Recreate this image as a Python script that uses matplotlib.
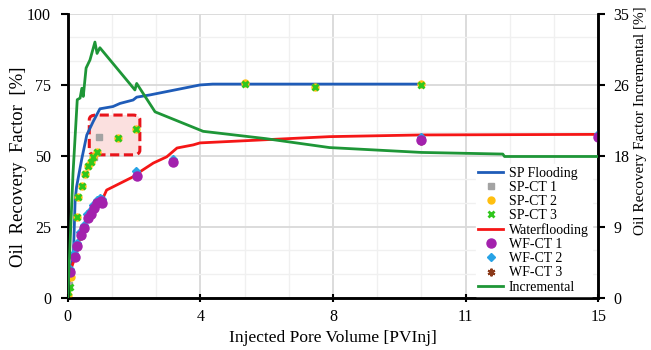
import matplotlib
matplotlib.use('Agg')
import matplotlib.pyplot as plt
from matplotlib.patches import FancyBboxPatch

plt.rcParams['font.family'] = ['Liberation Serif', 'DejaVu Serif']

# SP flooding curve
sp_x = [0, 0.05, 0.16, 0.21, 0.25, 0.40, 0.54, 0.72, 0.91, 1.28, 1.48, 1.85, 1.95, 2.33, 3.74, 4.1, 10.0]
sp_y = [0, 8, 14.4, 34.4, 39, 49, 57.3, 62, 66.5, 67.3, 68.4, 69.6, 70.6, 71.4, 74.9, 75.2, 75.2]

# SP core tests
spct1_x = [0.05, 0.75, 0.89]
spct1_y = [4.5, 49.5, 56.5]
spct2_x = [0.01, 0.1, 0.25, 0.30, 0.40, 0.49, 0.58, 0.65, 0.72, 0.82, 1.43, 1.93, 5.0, 7.0, 10.0]
spct2_y = [1.0, 7.2, 28.5, 35.4, 39.3, 43.6, 46.5, 47.9, 49.4, 51.4, 56.1, 59.3, 75.6, 74.3, 75.1]
spct3_x = [0.02, 0.07, 0.25, 0.30, 0.40, 0.49, 0.58, 0.65, 0.72, 0.82, 1.43, 1.93, 5.0, 7.0, 10.0]
spct3_y = [2.1, 3.9, 28.5, 35.4, 39.3, 43.6, 46.5, 47.9, 49.4, 51.4, 56.1, 59.3, 75.2, 74.1, 74.9]

# waterflooding curve
wf_x = [0, 0.07, 0.21, 0.27, 0.38, 0.47, 0.57, 0.65, 0.74, 0.84, 0.96, 1.1, 1.95, 1.99, 2.42, 2.8, 3.09, 3.55, 3.74, 7.4, 10.0, 15]
wf_y = [0, 9.2, 14.4, 18.2, 22, 24.4, 28.2, 29.4, 31.5, 33.2, 34, 37.9, 43.2, 43.9, 47.4, 49.6, 52.7, 53.8, 54.5, 56.7, 57.3, 57.5]

# WF core tests
wfct1_x = [0.07, 0.21, 0.27, 0.38, 0.47, 0.57, 0.65, 0.74, 0.84, 0.93, 0.98, 1.95, 2.99, 10.0, 15.0]
wfct1_y = [9.2, 14.4, 18.2, 22, 24.4, 28.2, 29.4, 31.5, 33.2, 34, 33.5, 43, 47.9, 55.5, 56.7]
wfct2_x = [0.06, 0.19, 0.26, 0.36, 0.45, 0.55, 0.63, 0.72, 0.82, 0.91, 0.96, 1.93, 2.97, 10.0, 15.0]
wfct2_y = [10.2, 15.6, 19.4, 23.2, 25.6, 29.4, 30.6, 32.7, 34.4, 35.2, 34.7, 44.5, 49.0, 56.6, 57.8]
wfct3_x = [0.07, 0.21, 0.27, 0.38, 0.47, 0.57, 0.65, 0.74, 0.84, 0.93, 0.98, 1.95, 2.99, 10.0, 15.0]
wfct3_y = [9.0, 14.2, 18.0, 21.8, 24.2, 28.0, 29.2, 31.3, 33.0, 33.8, 33.3, 42.8, 47.7, 55.3, 56.5]

# incremental recovery (right axis)
inc_x = [0, 0.05, 0.15, 0.27, 0.35, 0.40, 0.44, 0.52, 0.63, 0.77, 0.83, 0.91, 1.9, 1.95, 2.47, 3.83, 5.6, 7.4, 10.0, 12.3, 12.35, 15]
inc_y = [0, 5, 15.3, 24.4, 24.6, 25.8, 24.8, 28.3, 29.3, 31.5, 30.1, 30.8, 25.6, 26.4, 22.9, 20.5, 19.6, 18.5, 17.9, 17.7, 17.4, 17.4]

x_ticks = [0, 3.75, 7.5, 11.25, 15]
x_labels = ['0', '4', '8', '11', '15']
y_ticks = [0, 25, 50, 75, 100]
y2_ticks = [0, 8.75, 17.5, 26.25, 35]
y2_labels = ['0', '9', '18', '26', '35']

fig = plt.figure(figsize=(6.51, 3.5), dpi=100)
ax = fig.add_axes([0.104, 0.1494, 0.815, 0.8116])
ax2 = ax.twinx()

# highlight box
box = FancyBboxPatch((0.61, 50.3), 1.43, 14.0, boxstyle='round,pad=0,rounding_size=0.2',
                     mutation_aspect=8, facecolor='#fbe0df', edgecolor='#e8141b',
                     linestyle=(0, (3, 1.5)), linewidth=2.2, zorder=1)
ax.add_patch(box)

l1, = ax.plot(sp_x, sp_y, color='#1f5cb8', lw=2, label='SP Flooding', zorder=3)
m1, = ax.plot(spct1_x, spct1_y, 's', color='#a3a3a3', ms=5, label='SP-CT 1', zorder=4)
m2, = ax.plot(spct2_x, spct2_y, 'o', color='#ffbf0f', ms=5, label='SP-CT 2', zorder=4)
m3, = ax.plot(spct3_x, spct3_y, 'x', color='#2fc71c', ms=4.5, mew=2, label='SP-CT 3', zorder=5)
l2, = ax.plot(wf_x, wf_y, color='#f51616', lw=2, label='Waterflooding', zorder=3)
m6, = ax.plot(wfct3_x, wfct3_y, marker=(6, 2, 0), ls='none', color='#8b3a1a', ms=5.5, mew=1.5, label='WF-CT 3', zorder=4)
m5, = ax.plot(wfct2_x, wfct2_y, 'D', color='#27a3e6', ms=4, label='WF-CT 2', zorder=4)
m4, = ax.plot(wfct1_x, wfct1_y, 'o', color='#a321ad', ms=6.5, label='WF-CT 1', zorder=5)
l3, = ax2.plot(inc_x, inc_y, color='#1e9637', lw=2, label='Incremental', zorder=3)

ax.set_xlim(0, 15)
ax.set_ylim(0, 100)
ax2.set_ylim(0, 35)
ax.set_xticks(x_ticks)
ax.set_xticklabels(x_labels)
ax.set_xticks([1.25, 2.5, 5, 6.25, 8.75, 10, 12.5, 13.75], minor=True)
ax.set_yticks(y_ticks)
ax.set_yticks([8.33, 16.67, 33.33, 41.67, 58.33, 66.67, 83.33, 91.67], minor=True)
ax2.set_yticks(y2_ticks)
ax2.set_yticklabels(y2_labels)

ax.grid(which='major', color='#d9d9d9', lw=1.3, zorder=0)
ax.grid(which='minor', color='#f0f0f0', lw=1.0, zorder=0)
ax.set_axisbelow(True)

for a in (ax, ax2):
    a.spines['top'].set_visible(False)
    for s in ('left', 'right', 'bottom'):
        a.spines[s].set_linewidth(1.8)
ax.tick_params(which='minor', length=0)
ax.tick_params(axis='y', which='major', direction='out', length=5, width=1.5, labelsize=11.5, pad=7)
ax.tick_params(axis='x', which='major', direction='inout', length=6, width=1.5, labelsize=11.5, pad=5)
ax2.tick_params(axis='y', which='major', direction='out', length=5, width=1.5, labelsize=11.5, pad=6)
ax2.tick_params(which='minor', length=0)

ax.set_xlabel('Injected Pore Volume [PVInj]', fontsize=12.5)
ax.set_ylabel('Oil  Recovery  Factor  [%]', fontsize=13.5)
ax.yaxis.set_label_coords(-0.077, 0.46)
ax2.set_ylabel('Oil Recovery Factor Incremental [%]', fontsize=11)
ax2.yaxis.set_label_coords(1.068, 0.622)

handles = [l1, m1, m2, m3, l2, m4, m5, m6, l3]
leg = ax2.legend(handles, [h.get_label() for h in handles], loc='lower right',
                 bbox_to_anchor=(0.99, 0.0), fontsize=10, frameon=True, framealpha=1,
                 edgecolor='white', fancybox=False, handlelength=1.8, handletextpad=0.4,
                 labelspacing=0.08, borderpad=0.2, borderaxespad=0.1)

plt.savefig('out.png', dpi=100)
